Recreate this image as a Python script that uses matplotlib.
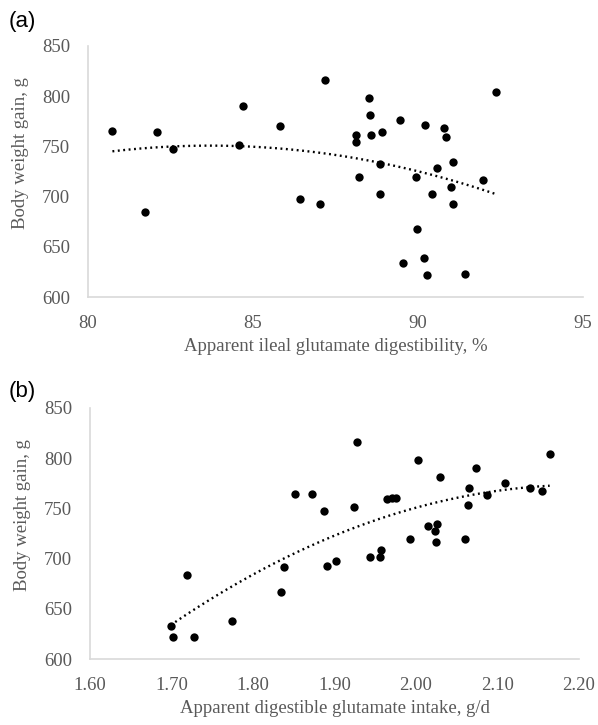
import numpy as np
import matplotlib
matplotlib.use("Agg")
import matplotlib.pyplot as plt

# (a) apparent ileal glutamate digestibility, % vs body weight gain, g
aid = [80.74, 81.73, 82.10, 82.58, 84.57, 84.70, 85.81, 86.41, 87.03, 87.19,
       88.53, 88.56, 88.13, 88.13, 88.57, 88.90, 89.44, 90.22, 90.78, 90.84,
       92.37, 88.85, 88.21, 89.95, 90.59, 91.06, 91.98, 91.01, 88.85, 90.43,
       91.07, 89.97, 89.55, 90.18, 90.28, 91.43]
bwg_a = [765, 685, 764, 747, 751, 790, 770, 698, 693, 816,
         798, 781, 761, 754, 761, 764, 776, 771, 768, 759,
         804, 732, 720, 720, 728, 734, 717, 710, 703, 703,
         693, 668, 634, 639, 622, 623]

# (b) apparent digestible glutamate intake, g/d vs body weight gain, g
intake = [1.699, 1.702, 1.727, 1.719, 1.774, 1.834, 1.838, 1.851, 1.872, 1.887,
          1.891, 1.902, 1.928, 1.924, 1.943, 1.956, 1.957, 1.965, 1.970, 1.975,
          1.993, 2.002, 2.015, 2.026, 2.023, 2.024, 2.029, 2.060, 2.064, 2.065,
          2.074, 2.087, 2.109, 2.140, 2.154, 2.164]
bwg_b = [633, 622, 622, 684, 638, 667, 692, 764, 764, 747,
         693, 698, 816, 751, 702, 702, 709, 759, 760, 760,
         720, 798, 732, 734, 727, 717, 781, 720, 753, 770,
         790, 763, 775, 770, 767, 804]

ytick = [600, 650, 700, 750, 800, 850]
xtick_a = [80, 85, 90, 95]
xtick_b = [1.60, 1.70, 1.80, 1.90, 2.00, 2.10, 2.20]

serif = "Liberation Serif"
grey = "#595959"
axcol = "#d9d9d9"

fig = plt.figure(figsize=(5.98, 7.25), dpi=100)
ax1 = fig.add_axes([88/598, 1-297/725, 495/598, 251/725])
ax2 = fig.add_axes([90/598, 1-659/725, 489/598, 251/725])


def style(ax, x, y, xt, fmt, xlabel):
    ax.scatter(x, y, s=36, color="black", zorder=3, linewidths=0)
    # second order polynomial trendline
    c = np.polyfit(x, y, 2)
    xx = np.linspace(min(x), max(x), 200)
    ax.plot(xx, np.polyval(c, xx), color="black", lw=1.7,
            linestyle=(0, (0.8, 1.5)), zorder=2)
    ax.set_xlim(xt[0], xt[-1])
    ax.set_ylim(600, 850)
    ax.set_xticks(xt)
    ax.set_xticklabels([fmt.format(v) for v in xt])
    ax.set_yticks(ytick)
    for s in ["top", "right"]:
        ax.spines[s].set_visible(False)
    for s in ["left", "bottom"]:
        ax.spines[s].set_color(axcol)
        ax.spines[s].set_linewidth(1.2)
    ax.tick_params(length=0, labelsize=13.5, colors=grey, pad=13)
    for lab in ax.get_xticklabels() + ax.get_yticklabels():
        lab.set_family(serif)
    ax.set_xlabel(xlabel, family=serif, fontsize=13.5, color=grey, labelpad=4)
    ax.set_ylabel("Body weight gain, g", family=serif, fontsize=13.5,
                  color=grey, labelpad=2)
    ax.yaxis.set_label_coords(-0.12, 0.575)


style(ax1, aid, bwg_a, xtick_a, "{:.0f}", "Apparent ileal glutamate digestibility, %")
style(ax2, intake, bwg_b, xtick_b, "{:.2f}", "Apparent digestible glutamate intake, g/d")

fig.text(22/598, 1-22/725, "(a)", family="Liberation Sans", fontsize=16,
         ha="center", va="center")
fig.text(22/598, 1-392/725, "(b)", family="Liberation Sans", fontsize=16,
         ha="center", va="center")

fig.savefig("out.png", dpi=100)
